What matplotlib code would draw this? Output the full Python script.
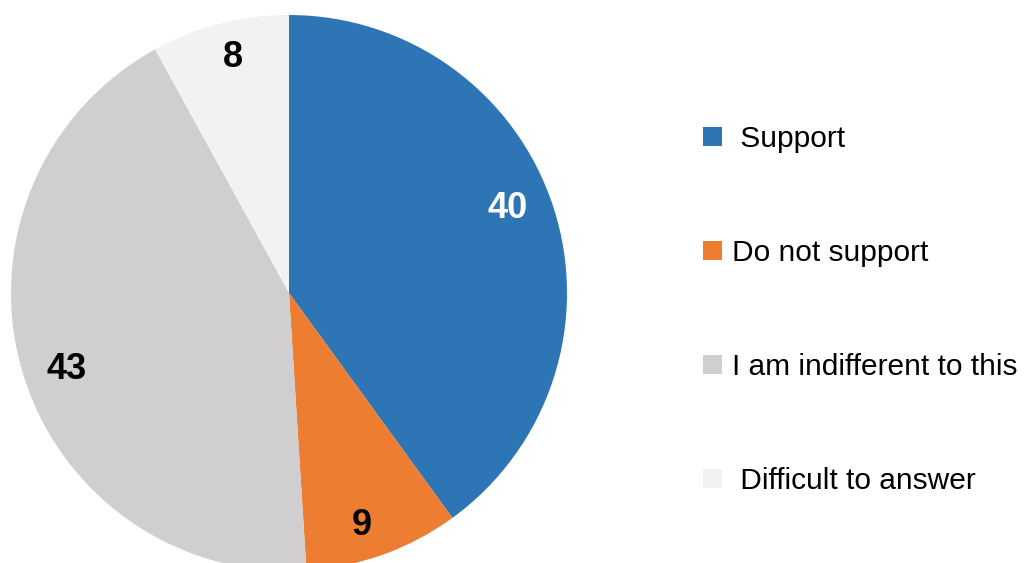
import numpy as np
import matplotlib.pyplot as plt
from matplotlib.patches import Patch

labels = ["Support", "Do not support", "I am indifferent to this", "Difficult to answer"]
values = [40, 9, 43, 8]
colors = ["#2E75B6", "#ED7D31", "#D0CECE", "#F2F2F2"]
label_colors = ["white", "black", "black", "black"]

plt.rcParams["font.family"] = ["Liberation Sans", "DejaVu Sans"]

fig = plt.figure(figsize=(10.28, 5.63), dpi=100)
ax = fig.add_axes([11 / 1028, -9 / 563, 556 / 1028, 558 / 563])

wedges, texts = ax.pie(
    values,
    colors=colors,
    startangle=90,
    counterclock=False,
    radius=1,
)
ax.set_xlim(-1, 1)
ax.set_ylim(-1, 1)
ax.set_aspect("equal")

# value labels inside each slice (distance from centre, small angle nudge)
dists = [0.844, 0.878, 0.844, 0.872]
nudge = [3.0, -2.4, 2.7, -1.1]
for v, w, c, d, n in zip(values, wedges, label_colors, dists, nudge):
    mid = np.deg2rad((w.theta1 + w.theta2) / 2 + n)
    ax.text(d * np.cos(mid), d * np.sin(mid), str(v), color=c,
            fontsize=26, fontweight="bold", ha="center", va="center")

handles = [Patch(facecolor=c, edgecolor="none") for c in colors]
leg_labels = [" " + labels[0], labels[1], labels[2], " " + labels[3]]
fig.legend(
    handles, leg_labels,
    loc="center left",
    bbox_to_anchor=(691 / 1028, 1 - 310 / 563),
    borderaxespad=0,
    frameon=False,
    fontsize=21.5,
    handlelength=0.64,
    handleheight=0.64,
    handletextpad=0.33,
    labelspacing=2.88,
)

fig.savefig("out.png", dpi=100)
